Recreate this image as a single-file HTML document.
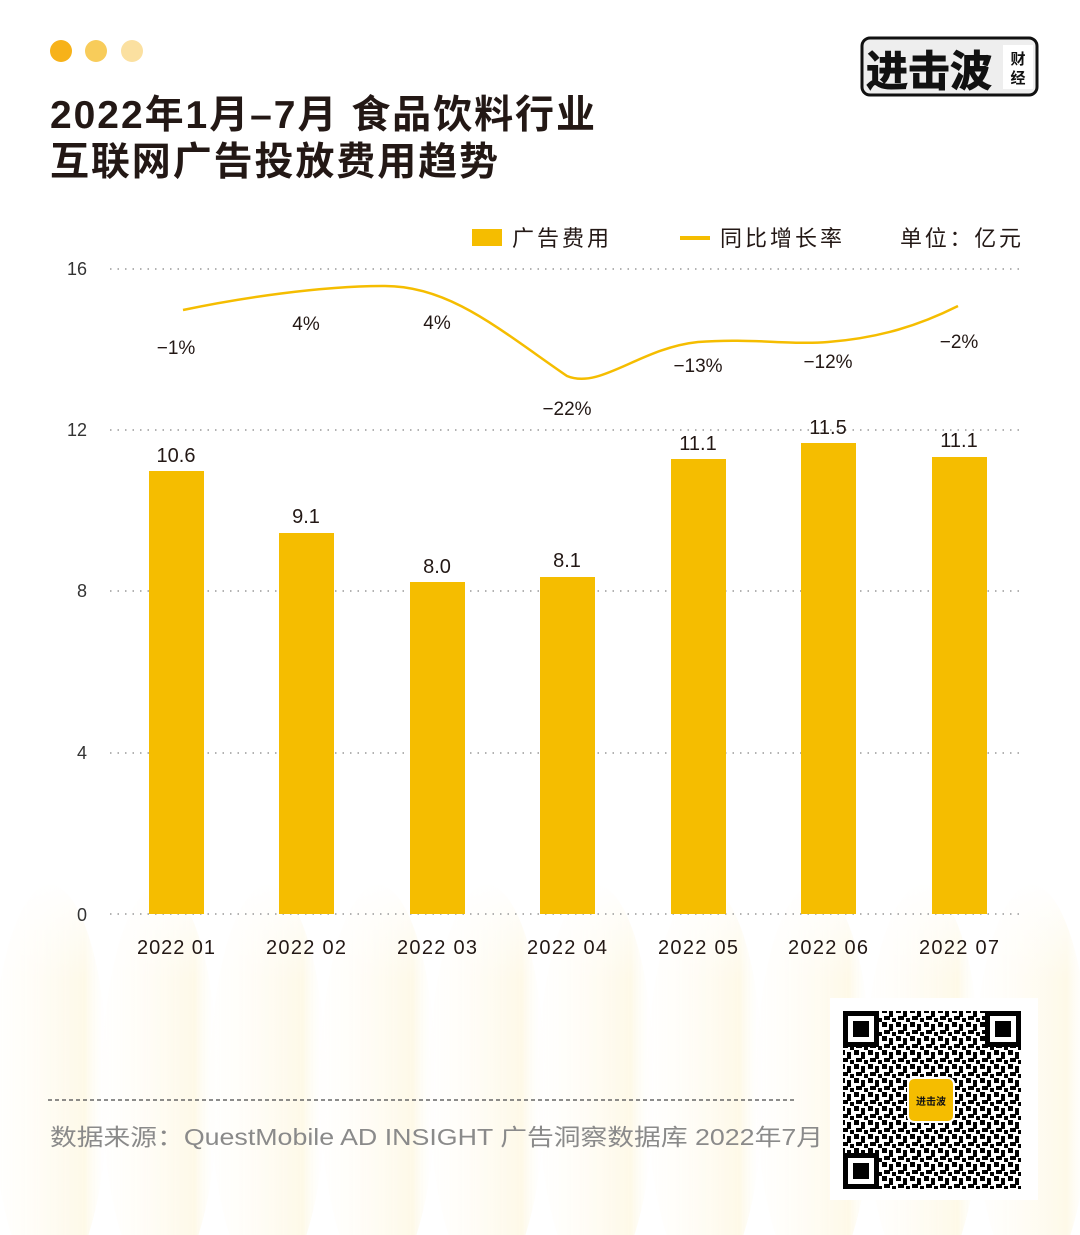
<!DOCTYPE html>
<html><head><meta charset="utf-8"><style>
body{margin:0;}
#c{width:1080px;height:1235px;position:relative;background:#fff;overflow:hidden;font-family:"Liberation Sans","Noto Sans CJK SC",sans-serif;}
</style></head><body><div id="c">
<svg width="1080" height="1235" viewBox="0 0 1080 1235" xmlns="http://www.w3.org/2000/svg" style="position:absolute;left:0;top:0">
<defs>
<linearGradient id="lg" x1="0" y1="0" x2="1" y2="0">
<stop offset="0" stop-color="#fff8e4" stop-opacity="0.1"/>
<stop offset="0.8" stop-color="#fdeebf" stop-opacity="0.8"/>
<stop offset="1" stop-color="#fff" stop-opacity="0"/>
</linearGradient>
<linearGradient id="vf" x1="0" y1="0" x2="0" y2="1">
<stop offset="0" stop-color="#fff" stop-opacity="1"/>
<stop offset="1" stop-color="#fff" stop-opacity="0"/>
</linearGradient>
<pattern id="qr" width="14" height="14" patternUnits="userSpaceOnUse">
<rect width="14" height="14" fill="#fff"/>
<rect x="0" y="0" width="5" height="5" fill="#000"/><rect x="7" y="2" width="4" height="7" fill="#000"/><rect x="2" y="8" width="6" height="4" fill="#000"/><rect x="10" y="10" width="4" height="4" fill="#000"/>
</pattern>
</defs>
<g opacity="0.45">
<ellipse cx="50" cy="1085" rx="58" ry="200" fill="url(#lg)"/>
<ellipse cx="160" cy="1085" rx="58" ry="200" fill="url(#lg)"/>
<ellipse cx="268" cy="1085" rx="58" ry="200" fill="url(#lg)"/>
<ellipse cx="378" cy="1085" rx="58" ry="200" fill="url(#lg)"/>
<ellipse cx="487" cy="1085" rx="58" ry="200" fill="url(#lg)"/>
<ellipse cx="596" cy="1085" rx="58" ry="200" fill="url(#lg)"/>
<ellipse cx="705" cy="1085" rx="58" ry="200" fill="url(#lg)"/>
<ellipse cx="814" cy="1085" rx="58" ry="200" fill="url(#lg)"/>
<ellipse cx="923" cy="1085" rx="58" ry="200" fill="url(#lg)"/>
<ellipse cx="1032" cy="1085" rx="58" ry="200" fill="url(#lg)"/>
</g>
<rect x="0" y="880" width="1080" height="100" fill="url(#vf)"/>
<circle cx="61" cy="51" r="11" fill="#f7b219"/>
<circle cx="96" cy="51" r="11" fill="#f8cc5a"/>
<circle cx="132" cy="51" r="11" fill="#fbe0a0"/>
<text x="50" y="128" font-size="39" font-weight="bold" fill="#231815" textLength="545" lengthAdjust="spacing">2022年1月–7月 食品饮料行业</text>
<text x="50" y="175" font-size="39" font-weight="bold" fill="#231815" textLength="448" lengthAdjust="spacing">互联网广告投放费用趋势</text>
<rect x="862" y="38" width="175" height="57" rx="8" fill="#eee" stroke="#111" stroke-width="3"/>
<text x="866" y="86" font-size="42" font-weight="bold" fill="#111" stroke="#111" stroke-width="1">进击波</text>
<rect x="1003" y="45" width="30" height="44" fill="#fff"/>
<text x="1018" y="64" font-size="15" font-weight="bold" text-anchor="middle" fill="#111">财</text>
<text x="1018" y="83" font-size="15" font-weight="bold" text-anchor="middle" fill="#111">经</text>
<rect x="472" y="229" width="30" height="17" fill="#f5bd00"/>
<text x="512" y="246" font-size="22" fill="#231815" textLength="97">广告费用</text>
<rect x="680" y="236" width="30" height="4" fill="#f5bd00"/>
<text x="720" y="246" font-size="22" fill="#231815" textLength="122">同比增长率</text>
<text x="900" y="246" font-size="22" fill="#231815" textLength="121">单位：亿元</text>
<g stroke="#999" stroke-width="1.5" stroke-dasharray="1.5 6">
<line x1="110" y1="269" x2="1020" y2="269"/>
<line x1="110" y1="430" x2="1020" y2="430"/>
<line x1="110" y1="591" x2="1020" y2="591"/>
<line x1="110" y1="753" x2="1020" y2="753"/>
<line x1="110" y1="914" x2="1020" y2="914"/>
</g>
<g font-size="18" fill="#333" text-anchor="end">
<text x="87" y="275">16</text><text x="87" y="436">12</text><text x="87" y="597">8</text><text x="87" y="759">4</text><text x="87" y="921">0</text>
</g>
<g fill="#f5bd00">
<rect x="149" y="471" width="55" height="443"/>
<rect x="279" y="533" width="55" height="381"/>
<rect x="410" y="582" width="55" height="332"/>
<rect x="540" y="577" width="55" height="337"/>
<rect x="671" y="459" width="55" height="455"/>
<rect x="801" y="443" width="55" height="471"/>
<rect x="932" y="457" width="55" height="457"/>
</g>
<g font-size="20" fill="#231815" text-anchor="middle">
<text x="176" y="462">10.6</text><text x="306" y="523">9.1</text><text x="437" y="573">8.0</text><text x="567" y="567">8.1</text><text x="698" y="450">11.1</text><text x="828" y="434">11.5</text><text x="959" y="447">11.1</text>
</g>
<path d="M183 310 C240 298 320 286 385 286 C450 286 500 330 567 376 C600 390 640 348 698 342 C750 338 790 345 828 342 C880 338 920 325 958 306" fill="none" stroke="#f5bd00" stroke-width="2.5"/>
<g font-size="19" fill="#231815" text-anchor="middle">
<text x="176" y="354">−1%</text><text x="306" y="330">4%</text><text x="437" y="329">4%</text><text x="567" y="415">−22%</text><text x="698" y="372">−13%</text><text x="828" y="368">−12%</text><text x="959" y="348">−2%</text>
</g>
<g font-size="20" fill="#231815">
<text x="137" y="954" textLength="78">2022 01</text><text x="266" y="954" textLength="80">2022 02</text><text x="397" y="954" textLength="80">2022 03</text><text x="527" y="954" textLength="80">2022 04</text><text x="658" y="954" textLength="80">2022 05</text><text x="788" y="954" textLength="80">2022 06</text><text x="919" y="954" textLength="80">2022 07</text>
</g>
<line x1="48" y1="1100" x2="795" y2="1100" stroke="#666" stroke-width="1.5" stroke-dasharray="4 3"/>
<text x="50" y="1145" font-size="23" fill="#8a8a8a" textLength="773" lengthAdjust="spacingAndGlyphs">数据来源：QuestMobile AD INSIGHT 广告洞察数据库 2022年7月</text>
<rect x="830" y="998" width="208" height="202" fill="#fff"/>
<rect x="843" y="1011" width="178" height="178" fill="url(#qr)"/>
<g fill="#000">
<rect x="843" y="1011" width="36" height="36"/><rect x="985" y="1011" width="36" height="36"/><rect x="843" y="1153" width="36" height="36"/>
</g>
<g fill="#fff"><rect x="848" y="1016" width="26" height="26"/><rect x="990" y="1016" width="26" height="26"/><rect x="848" y="1158" width="26" height="26"/></g>
<g fill="#000"><rect x="853" y="1021" width="16" height="16"/><rect x="995" y="1021" width="16" height="16"/><rect x="853" y="1163" width="16" height="16"/></g>
<rect x="908" y="1078" width="46" height="44" rx="6" fill="#f5bd00" stroke="#fff" stroke-width="2"/>
<text x="931" y="1105" font-size="10" font-weight="bold" text-anchor="middle" fill="#111">进击波</text>
</svg>
</div></body></html>
